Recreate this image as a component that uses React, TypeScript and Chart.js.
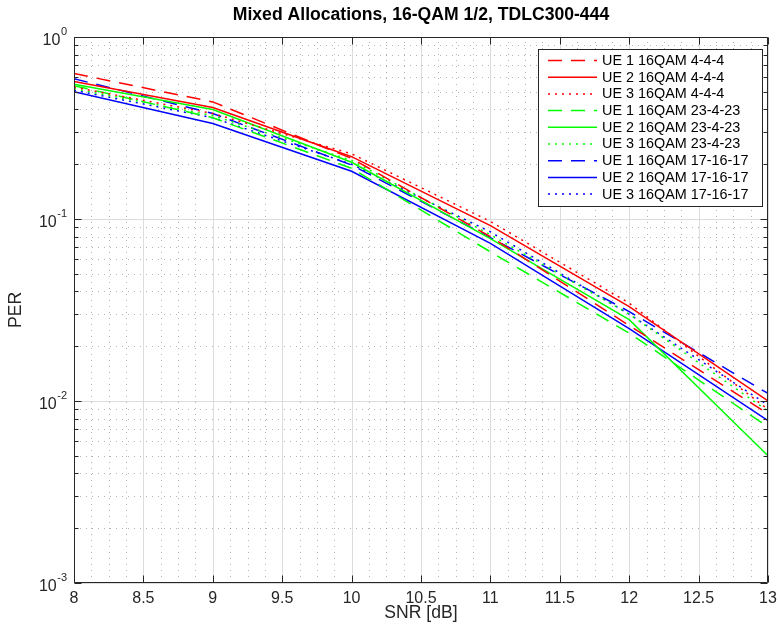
import React, { useEffect, useRef } from 'react';
import { Chart, registerables } from 'chart.js';

Chart.register(...registerables);

// ---------- data ----------
const snrDb = [8, 9, 10, 11, 12, 13];

const ue1_4_4_4 = [0.63, 0.44, 0.215, 0.080, 0.026, 0.0085];
const ue2_4_4_4 = [0.57, 0.41, 0.22, 0.092, 0.033, 0.0100];
const ue3_4_4_4 = [0.53, 0.38, 0.228, 0.097, 0.0345, 0.0090];

const ue1_23_4_23 = [0.54, 0.36, 0.19, 0.066, 0.0236, 0.0072];
const ue2_23_4_23 = [0.55, 0.40, 0.205, 0.078, 0.028, 0.0050];
const ue3_23_4_23 = [0.52, 0.37, 0.21, 0.082, 0.030, 0.0088];

const ue1_17_16_17 = [0.59, 0.38, 0.198, 0.079, 0.031, 0.0110];
const ue2_17_16_17 = [0.50, 0.335, 0.183, 0.0735, 0.025, 0.0078];
const ue3_17_16_17 = [0.51, 0.36, 0.20, 0.085, 0.030, 0.0095];

const seriesLabels = [
  'UE 1 16QAM 4-4-4',
  'UE 2 16QAM 4-4-4',
  'UE 3 16QAM 4-4-4',
  'UE 1 16QAM 23-4-23',
  'UE 2 16QAM 23-4-23',
  'UE 3 16QAM 23-4-23',
  'UE 1 16QAM 17-16-17',
  'UE 2 16QAM 17-16-17',
  'UE 3 16QAM 17-16-17',
];
const seriesValues = [
  ue1_4_4_4, ue2_4_4_4, ue3_4_4_4,
  ue1_23_4_23, ue2_23_4_23, ue3_23_4_23,
  ue1_17_16_17, ue2_17_16_17, ue3_17_16_17,
];

const xTickValues = [8, 8.5, 9, 9.5, 10, 10.5, 11, 11.5, 12, 12.5, 13];
const xTickLabels = ['8', '8.5', '9', '9.5', '10', '10.5', '11', '11.5', '12', '12.5', '13'];
const yDecadeExponents = [-3, -2, -1, 0];
const yTickExponentLabels = ['-3', '-2', '-1', '0'];

const chartTitle = 'Mixed Allocations, 16-QAM 1/2, TDLC300-444';
const xAxisTitle = 'SNR [dB]';
const yAxisTitle = 'PER';

// ---------- styles ----------
const FONT = '"Liberation Sans", Arial, Helvetica, sans-serif';
const AXIS_COLOR = '#262626';
const colors = ['#ff0000', '#ff0000', '#ff0000', '#00ff00', '#00ff00', '#00ff00', '#0000ff', '#0000ff', '#0000ff'];
const DASHED = [14, 9];
const DOTTED = [2, 5];
const dashes = [DASHED, [], DOTTED, DASHED, [], DOTTED, DASHED, [], DOTTED];

const gridPlugin = {
  id: 'matlabGrid',
  beforeDatasetsDraw(chart: any) {
    const { ctx, chartArea, scales } = chart;
    const { left, right, top, bottom } = chartArea;
    const xs = scales.x;
    const ys = scales.y;
    ctx.save();
    ctx.lineWidth = 1;
    // minor grid (dotted)
    ctx.strokeStyle = 'rgba(40,40,40,0.35)';
    ctx.setLineDash([1, 5]);
    for (let i = 0; i < xTickValues.length - 1; i++) {
      for (let k = 1; k < 4; k++) {
        const v = xTickValues[i] + (k * (xTickValues[i + 1] - xTickValues[i])) / 4;
        const px = Math.round(xs.getPixelForValue(v)) + 0.5;
        ctx.beginPath();
        ctx.moveTo(px, bottom);
        ctx.lineTo(px, top);
        ctx.stroke();
      }
    }
    for (let d = 0; d < yDecadeExponents.length - 1; d++) {
      for (let m = 2; m <= 9; m++) {
        const v = m * Math.pow(10, yDecadeExponents[d]);
        const py = Math.round(ys.getPixelForValue(v)) + 0.5;
        ctx.beginPath();
        ctx.moveTo(left, py);
        ctx.lineTo(right, py);
        ctx.stroke();
      }
    }
    // major grid (solid light)
    ctx.setLineDash([]);
    ctx.strokeStyle = '#dcdcdc';
    xTickValues.forEach((v) => {
      const px = Math.round(xs.getPixelForValue(v)) + 0.5;
      ctx.beginPath();
      ctx.moveTo(px, bottom);
      ctx.lineTo(px, top);
      ctx.stroke();
    });
    yDecadeExponents.forEach((e) => {
      const py = Math.round(ys.getPixelForValue(Math.pow(10, e))) + 0.5;
      ctx.beginPath();
      ctx.moveTo(left, py);
      ctx.lineTo(right, py);
      ctx.stroke();
    });
    ctx.restore();
  },
};

const axesPlugin = {
  id: 'matlabAxes',
  afterDatasetsDraw(chart: any) {
    const { ctx, chartArea, scales } = chart;
    const { left, right, top, bottom } = chartArea;
    const xs = scales.x;
    const ys = scales.y;
    ctx.save();
    ctx.strokeStyle = AXIS_COLOR;
    ctx.lineWidth = 1;
    ctx.setLineDash([]);
    const L = Math.round(left) + 0.5;
    const R = Math.round(right) - 0.5;
    const T = Math.round(top) + 0.5;
    const B = Math.round(bottom) - 0.5;
    ctx.beginPath();
    ctx.rect(L, T, R - L, B - T);
    ctx.stroke();
    const major = 7;
    const minor = 4;
    ctx.beginPath();
    xTickValues.forEach((v) => {
      const px = Math.round(xs.getPixelForValue(v)) + 0.5;
      ctx.moveTo(px, B);
      ctx.lineTo(px, B - major);
      ctx.moveTo(px, T);
      ctx.lineTo(px, T + major);
    });
    yDecadeExponents.forEach((e, i) => {
      const py = Math.round(ys.getPixelForValue(Math.pow(10, e))) + 0.5;
      ctx.moveTo(L, py);
      ctx.lineTo(L + major, py);
      ctx.moveTo(R, py);
      ctx.lineTo(R - major, py);
      if (i < yDecadeExponents.length - 1) {
        for (let m = 2; m <= 9; m++) {
          const qy = Math.round(ys.getPixelForValue(m * Math.pow(10, e))) + 0.5;
          ctx.moveTo(L, qy);
          ctx.lineTo(L + minor, qy);
          ctx.moveTo(R, qy);
          ctx.lineTo(R - minor, qy);
        }
      }
    });
    ctx.stroke();

    // y tick labels 10^e
    ctx.fillStyle = AXIS_COLOR;
    ctx.textBaseline = 'middle';
    ctx.textAlign = 'left';
    yDecadeExponents.forEach((e, i) => {
      const py = ys.getPixelForValue(Math.pow(10, e));
      const exp = yTickExponentLabels[i];
      ctx.font = `11px ${FONT}`;
      const ew = ctx.measureText(exp).width;
      ctx.font = `16px ${FONT}`;
      const bw = ctx.measureText('10').width;
      const rightEdge = left - 7;
      const bx = rightEdge - ew - bw - 0.5;
      ctx.fillText('10', bx, py + 4);
      ctx.font = `11px ${FONT}`;
      ctx.fillText(exp, bx + bw + 0.5, py - 5);
    });
    ctx.restore();
  },
  afterDraw(chart: any) {
    const { ctx, chartArea } = chart;
    ctx.save();
    // title
    ctx.fillStyle = '#000000';
    ctx.font = `bold 17.6px ${FONT}`;
    ctx.textAlign = 'center';
    ctx.textBaseline = 'middle';
    ctx.fillText(chartTitle, (chartArea.left + chartArea.right) / 2, 15);

    // legend
    const bx = 538.5, by = 49.5, bw = 224, bh = 157;
    ctx.fillStyle = '#ffffff';
    ctx.fillRect(bx, by, bw, bh);
    ctx.strokeStyle = AXIS_COLOR;
    ctx.lineWidth = 1;
    ctx.setLineDash([]);
    ctx.strokeRect(bx, by, bw, bh);
    ctx.font = `14.4px ${FONT}`;
    ctx.textAlign = 'left';
    ctx.textBaseline = 'middle';
    chart.data.datasets.forEach((ds: any, i: number) => {
      const cy = 60.5 + i * 16.7;
      ctx.strokeStyle = ds.borderColor;
      ctx.lineWidth = ds.borderWidth;
      ctx.setLineDash(ds.borderDash || []);
      ctx.beginPath();
      ctx.moveTo(548, cy);
      ctx.lineTo(597, cy);
      ctx.stroke();
      ctx.setLineDash([]);
      ctx.fillStyle = '#000000';
      ctx.fillText(ds.label, 602, cy + 0.5);
    });
    ctx.restore();
  },
};

export default function App() {
  const canvasRef = useRef<HTMLCanvasElement | null>(null);

  useEffect(() => {
    document.body.style.margin = '0';
    const canvas = canvasRef.current;
    if (!canvas) return;
    const datasets = seriesValues.map((vals, i) => ({
      label: seriesLabels[i],
      data: snrDb.map((x, j) => ({ x, y: vals[j] })),
      borderColor: colors[i],
      backgroundColor: colors[i],
      borderWidth: 1.5,
      borderDash: dashes[i],
      pointRadius: 0,
      tension: 0,
      fill: false,
    }));
    const chart = new Chart(canvas, {
      type: 'line',
      data: { datasets },
      options: {
        responsive: false,
        animation: false,
        devicePixelRatio: 1,
        layout: { padding: { top: 37, right: 12, left: 0, bottom: 0 } },
        plugins: {
          legend: { display: false },
          title: { display: false },
          tooltip: { enabled: false },
        },
        scales: {
          x: {
            type: 'linear',
            min: 8,
            max: 13,
            grid: { display: false, drawTicks: false },
            border: { display: false },
            afterBuildTicks: (s: any) => {
              s.ticks = xTickValues.map((v) => ({ value: v }));
            },
            ticks: {
              autoSkip: false,
              maxRotation: 0,
              padding: 6,
              color: AXIS_COLOR,
              font: { family: FONT, size: 16 },
              callback: (v: any) => {
                const idx = xTickValues.indexOf(Number(v));
                return idx >= 0 ? xTickLabels[idx] : '';
              },
            },
            title: {
              display: true,
              text: xAxisTitle,
              color: AXIS_COLOR,
              font: { family: FONT, size: 17.6 },
              padding: { top: 0, bottom: 6 },
            },
            afterFit: (s: any) => {
              s.height = 47;
              s.paddingLeft = 0;
              s.paddingRight = 0;
            },
          },
          y: {
            type: 'logarithmic',
            min: 0.001,
            max: 1,
            grid: { display: false, drawTicks: false },
            border: { display: false },
            ticks: { display: false },
            title: {
              display: true,
              text: yAxisTitle,
              color: AXIS_COLOR,
              font: { family: FONT, size: 17.6 },
              padding: { top: 6, bottom: 0 },
            },
            afterFit: (s: any) => {
              s.width = 74;
              s.paddingTop = 0;
              s.paddingBottom = 0;
            },
          },
        },
      } as any,
      plugins: [gridPlugin, axesPlugin],
    });
    return () => chart.destroy();
  }, []);

  return (
    <div style={{ position: 'fixed', left: 0, top: 0, width: 780, height: 630, background: '#ffffff' }}>
      <canvas ref={canvasRef} width={780} height={630} style={{ width: 780, height: 630 }} />
    </div>
  );
}
